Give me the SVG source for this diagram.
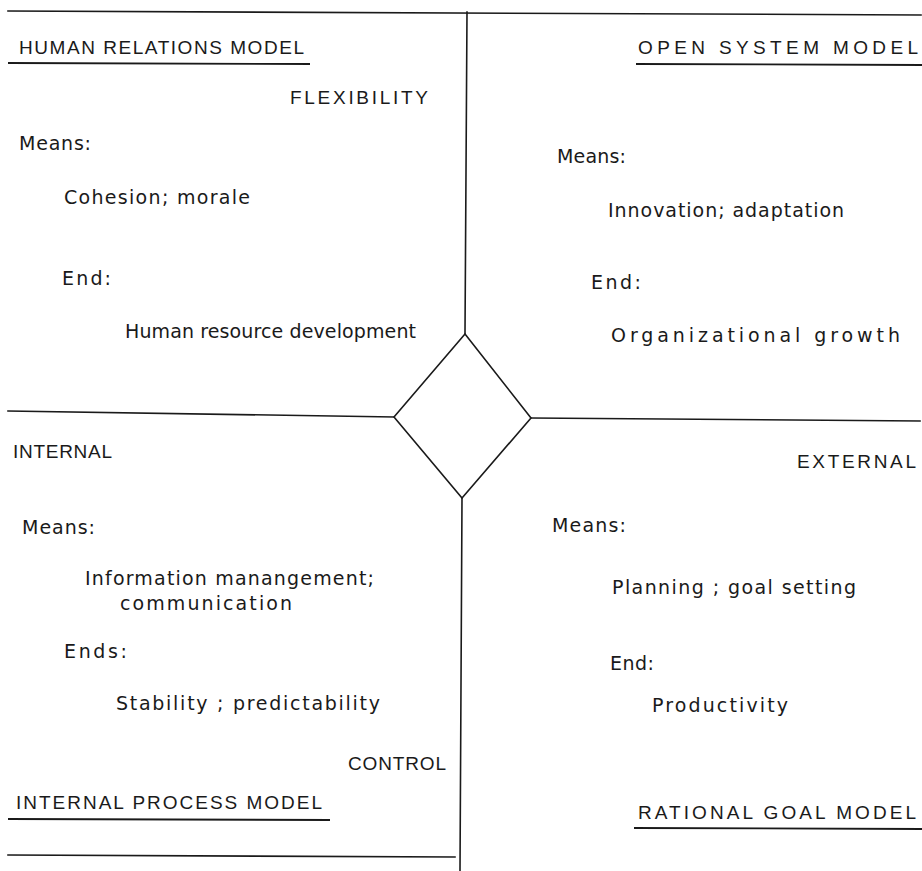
<svg xmlns="http://www.w3.org/2000/svg" width="922" height="871" viewBox="0 0 922 871">
  <style>
    .line { stroke: #1a1a1a; stroke-width: 1.6; fill: none; stroke-linecap: square; }
    .rule { stroke: #1a1a1a; stroke-width: 1.8; fill: none; }
    .cap { font-family: "Liberation Sans", "DejaVu Sans", sans-serif; font-size: 19px; fill: #1a1a1a; }
    .txt { font-family: "DejaVu Sans", "Liberation Sans", sans-serif; font-size: 19px; fill: #1a1a1a; }
  </style>
  <rect width="922" height="871" fill="#ffffff"/>

  <!-- frame and axes -->
  <g id="connectors">
    <line class="line" x1="8" y1="11" x2="921" y2="15"/>
    <line class="line" x1="467" y1="12" x2="465" y2="334"/>
    <line class="line" x1="8" y1="411" x2="394" y2="417"/>
    <line class="line" x1="531" y1="418" x2="920" y2="421"/>
    <line class="line" x1="462" y1="498" x2="460" y2="871"/>
    <line class="line" x1="8" y1="855" x2="455" y2="857"/>
  </g>

  <!-- central diamond -->
  <g id="center">
    <polygon class="line" points="465,334 531,418 462,498 394,417"/>
  </g>

  <!-- upper left: human relations model -->
  <g id="human-relations">
    <text class="cap" x="19" y="54" textLength="285" lengthAdjust="spacing">HUMAN RELATIONS MODEL</text>
    <line class="rule" x1="8" y1="63" x2="310" y2="64"/>
    <text class="cap" x="290" y="104" textLength="138" lengthAdjust="spacing">FLEXIBILITY</text>
    <text class="txt" x="19" y="150" textLength="72" lengthAdjust="spacing">Means:</text>
    <text class="txt" x="64" y="204" textLength="186" lengthAdjust="spacing">Cohesion; morale</text>
    <text class="txt" x="62" y="285" textLength="49" lengthAdjust="spacing">End:</text>
    <text class="txt" x="125" y="338" textLength="291" lengthAdjust="spacing">Human resource  development</text>
  </g>

  <!-- upper right: open system model -->
  <g id="open-system">
    <text class="cap" x="638" y="54" textLength="280" lengthAdjust="spacing">OPEN SYSTEM MODEL</text>
    <line class="rule" x1="636" y1="64" x2="922" y2="65"/>
    <text class="txt" x="557" y="163" textLength="69" lengthAdjust="spacing">Means:</text>
    <text class="txt" x="608" y="217" textLength="236" lengthAdjust="spacing">Innovation; adaptation</text>
    <text class="txt" x="591" y="289" textLength="50" lengthAdjust="spacing">End:</text>
    <text class="txt" x="611" y="342" textLength="289" lengthAdjust="spacing">Organizational growth</text>
  </g>

  <!-- lower left: internal process model -->
  <g id="internal-process">
    <text class="cap" x="13" y="458" textLength="99" lengthAdjust="spacing">INTERNAL</text>
    <text class="txt" x="22" y="534" textLength="73" lengthAdjust="spacing">Means:</text>
    <text class="txt" x="85" y="585" textLength="289" lengthAdjust="spacing">Information manangement;</text>
    <text class="txt" x="120" y="610" textLength="172" lengthAdjust="spacing">communication</text>
    <text class="txt" x="64" y="658" textLength="63" lengthAdjust="spacing">Ends:</text>
    <text class="txt" x="116" y="710" textLength="264" lengthAdjust="spacing">Stability ; predictability</text>
    <text class="cap" x="348" y="770" textLength="98" lengthAdjust="spacing">CONTROL</text>
    <text class="cap" x="16" y="809" textLength="306" lengthAdjust="spacing">INTERNAL PROCESS MODEL</text>
    <line class="rule" x1="8" y1="819" x2="330" y2="820"/>
  </g>

  <!-- lower right: rational goal model -->
  <g id="rational-goal">
    <text class="cap" x="797" y="468" textLength="119" lengthAdjust="spacing">EXTERNAL</text>
    <text class="txt" x="552" y="532" textLength="74" lengthAdjust="spacing">Means:</text>
    <text class="txt" x="612" y="594" textLength="244" lengthAdjust="spacing">Planning ; goal setting</text>
    <text class="txt" x="610" y="670" textLength="44" lengthAdjust="spacing">End:</text>
    <text class="txt" x="652" y="712" textLength="136" lengthAdjust="spacing">Productivity</text>
    <text class="cap" x="638" y="819" textLength="278" lengthAdjust="spacing">RATIONAL  GOAL  MODEL</text>
    <line class="rule" x1="634" y1="828" x2="922" y2="829"/>
  </g>
</svg>
